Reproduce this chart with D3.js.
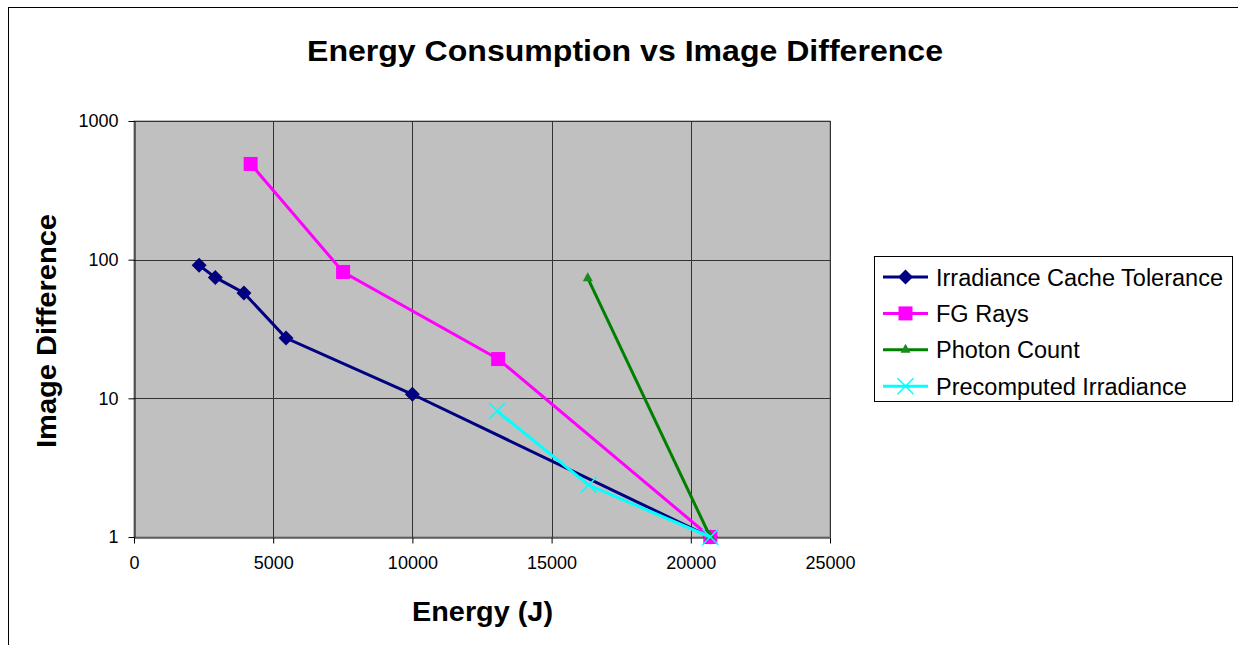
<!DOCTYPE html>
<html>
<head>
<meta charset="utf-8">
<script src="https://cdn.jsdelivr.net/npm/d3@7"></script>
<style>
  body { margin: 0; background: #fff; }
  svg { display: block; font-family: "Liberation Sans", Arial, sans-serif; }
</style>
</head>
<body>
<script>
// series values (energy in J, image difference)
var seriesNames = ["Irradiance Cache Tolerance", "FG Rays", "Photon Count", "Precomputed Irradiance"];
var irradianceCache = [[2340, 91], [2920, 74.5], [3950, 57.5], [5460, 27.2], [10000, 10.7], [20700, 1]];
var fgRays = [[4190, 490], [7510, 81.5], [13080, 19.2], [20700, 1]];
var photonCount = [[16300, 73.5], [20700, 1]];
var precomputed = [[13040, 8.1], [16330, 2.37], [20700, 1]];
var xTicks = [0, 5000, 10000, 15000, 20000, 25000];
var yTicks = [1, 10, 100, 1000];

var colors = ["#000080", "#FF00FF", "#008000", "#00FFFF"];
var symbols = ["diamond", "square", "triangle", "cross"];
var allSeries = [irradianceCache, fgRays, photonCount, precomputed];

var W = 1238, H = 645;
var plot = {left: 134, top: 121, right: 830, bottom: 537};

var svg = d3.select("body").append("svg")
    .attr("width", W)
    .attr("height", H);

// outer chart border (runs off the right and bottom edges)
svg.append("rect")
    .attr("x", 8.5).attr("y", 7.5)
    .attr("width", 1300).attr("height", 700)
    .attr("fill", "#fff")
    .attr("stroke", "#000").attr("stroke-width", 1);

var x = d3.scaleLinear().domain([0, 25000]).range([plot.left, plot.right]);
var y = d3.scaleLog().domain([1, 1000]).range([plot.bottom, plot.top]);

// plot area
svg.append("rect")
    .attr("x", plot.left).attr("y", plot.top)
    .attr("width", plot.right - plot.left)
    .attr("height", plot.bottom - plot.top)
    .attr("fill", "#C0C0C0")
    .attr("stroke", "#808080").attr("stroke-width", 1);

// gridlines
svg.append("g").selectAll("line")
    .data(xTicks.slice(1))
  .enter().append("line")
    .attr("x1", function(d) { return Math.round(x(d)) + 0.5; })
    .attr("x2", function(d) { return Math.round(x(d)) + 0.5; })
    .attr("y1", plot.top).attr("y2", plot.bottom)
    .attr("stroke", "#333").attr("stroke-width", 1);

svg.append("g").selectAll("line")
    .data(yTicks.slice(1))
  .enter().append("line")
    .attr("y1", function(d) { return Math.round(y(d)) + 0.5; })
    .attr("y2", function(d) { return Math.round(y(d)) + 0.5; })
    .attr("x1", plot.left).attr("x2", plot.right)
    .attr("stroke", "#333").attr("stroke-width", 1);

// axes
var xAxis = svg.append("g")
    .attr("transform", "translate(0," + (plot.bottom + 0.5) + ")")
    .call(d3.axisBottom(x).tickValues(xTicks).tickSize(6).tickSizeOuter(0).tickPadding(13)
      .tickFormat(d3.format("d")));
var yAxis = svg.append("g")
    .attr("transform", "translate(" + (plot.left + 0.5) + ",0)")
    .call(d3.axisLeft(y).tickValues(yTicks).tickSize(6).tickSizeOuter(0).tickPadding(10)
      .tickFormat(d3.format("d")));

[xAxis, yAxis].forEach(function(a) {
  a.selectAll("path").attr("stroke", "#000");
  a.selectAll("line").attr("stroke", "#000");
  a.selectAll("text")
      .attr("fill", "#000")
      .style("font-size", "18px")
      .style("font-family", "'Liberation Sans', Arial, sans-serif");
});

// series lines and markers
var line = d3.line()
    .x(function(d) { return x(d[0]); })
    .y(function(d) { return y(d[1]); });

function marker(g, type, color, cx, cy) {
  if (type === "diamond") {
    g.append("path")
        .attr("d", "M0,-7.5L7.5,0L0,7.5L-7.5,0Z")
        .attr("transform", "translate(" + cx + "," + cy + ")")
        .attr("fill", color);
  } else if (type === "square") {
    g.append("rect")
        .attr("x", cx - 7).attr("y", cy - 7)
        .attr("width", 14).attr("height", 14)
        .attr("fill", color);
  } else if (type === "triangle") {
    g.append("path")
        .attr("d", "M0,-6L5,3L-5,3Z")
        .attr("transform", "translate(" + cx + "," + cy + ")")
        .attr("fill", "#1a8a1a");
  } else {
    g.append("path")
        .attr("d", "M-8,-8L8,8M-8,8L8,-8")
        .attr("transform", "translate(" + cx + "," + cy + ")")
        .attr("stroke", color).attr("stroke-width", 1.5).attr("fill", "none");
  }
}

allSeries.forEach(function(s, i) {
  var g = svg.append("g");
  g.append("path")
      .datum(s)
      .attr("d", line)
      .attr("fill", "none")
      .attr("stroke", colors[i])
      .attr("stroke-width", 3);
  s.forEach(function(d) {
    marker(g, symbols[i], colors[i], x(d[0]), y(d[1]));
  });
});

// title and axis titles
svg.append("text")
    .attr("x", 307).attr("y", 61)
    .attr("textLength", 636).attr("lengthAdjust", "spacingAndGlyphs")
    .style("font-size", "29px").style("font-weight", "bold")
    .text("Energy Consumption vs Image Difference");

svg.append("text")
    .attr("x", 412).attr("y", 621)
    .attr("textLength", 141).attr("lengthAdjust", "spacingAndGlyphs")
    .style("font-size", "27px").style("font-weight", "bold")
    .text("Energy (J)");

svg.append("text")
    .attr("transform", "translate(56,448) rotate(-90)")
    .attr("textLength", 234).attr("lengthAdjust", "spacingAndGlyphs")
    .style("font-size", "27px").style("font-weight", "bold")
    .text("Image Difference");

// legend
var legend = svg.append("g");
legend.append("rect")
    .attr("x", 874.5).attr("y", 256.5)
    .attr("width", 358).attr("height", 145)
    .attr("fill", "#fff")
    .attr("stroke", "#000").attr("stroke-width", 1);

seriesNames.forEach(function(name, i) {
  var ly = 277 + i * 36.4;
  legend.append("line")
      .attr("x1", 883).attr("x2", 928)
      .attr("y1", ly).attr("y2", ly)
      .attr("stroke", colors[i]).attr("stroke-width", 3);
  marker(legend, symbols[i], colors[i], 905.5, ly);
  legend.append("text")
      .attr("x", 936).attr("y", ly + 8.5)
      .style("font-size", "23.5px")
      .text(name);
});
</script>
</body>
</html>
